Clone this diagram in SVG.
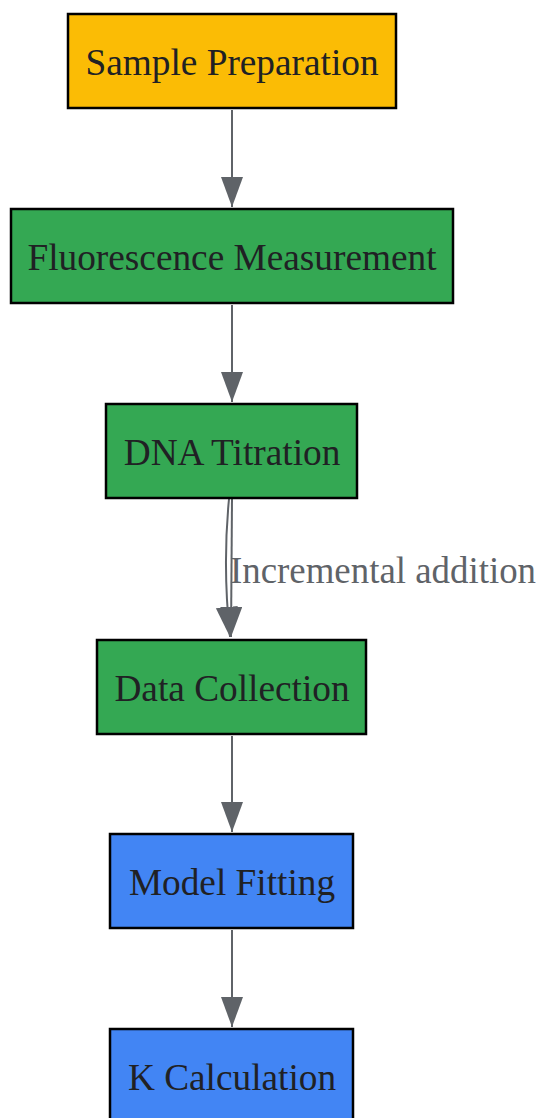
<svg xmlns="http://www.w3.org/2000/svg" width="542" height="1118" viewBox="0 0 542 1118">
<defs>
<style>
.node rect{stroke:#000;stroke-width:2.5}
.node text{font-family:"Liberation Serif","Times New Roman",serif;font-size:37.3px;fill:#202124;text-anchor:middle}
.edge{fill:none;stroke:#5f6368;stroke-width:2;marker-end:url(#arrow)}
.lbl{font-family:"Liberation Serif","Times New Roman",serif;font-size:37px;fill:#5f6368}
</style>
<marker id="arrow" markerUnits="userSpaceOnUse" markerWidth="31" markerHeight="23" refX="30" refY="11" orient="auto">
<path d="M0,0 L30,11 L0,22 z" fill="#5f6368"/>
</marker>
</defs>
<rect width="542" height="1118" fill="#fff"/>
<g id="connectors">
<path class="edge" d="M232,110 L232,207"/>
<path class="edge" d="M232,305 L232,402"/>
<path class="edge" d="M232,499 L231,637"/>
<path class="edge" d="M229,499 C225,540 225,590 230,637"/>
<path class="edge" d="M232,736 L232,832"/>
<path class="edge" d="M232,930 L232,1027"/>
<text class="lbl" x="230" y="583" textLength="306" lengthAdjust="spacingAndGlyphs">Incremental addition</text>
</g>
<g id="sample" class="node"><rect x="68" y="14" width="328" height="94" fill="#FBBC05"/><text x="232" y="75">Sample Preparation</text></g>
<g id="fluor" class="node"><rect x="11" y="209" width="442" height="94" fill="#34A853"/><text x="232" y="270">Fluorescence Measurement</text></g>
<g id="dna" class="node"><rect x="106" y="404" width="251" height="94" fill="#34A853"/><text x="232" y="465">DNA Titration</text></g>
<g id="data" class="node"><rect x="97" y="640" width="269" height="94" fill="#34A853"/><text x="232" y="701">Data Collection</text></g>
<g id="model" class="node"><rect x="110" y="834" width="243" height="94" fill="#4285F4"/><text x="232" y="895">Model Fitting</text></g>
<g id="kcalc" class="node"><rect x="110" y="1029" width="243" height="94" fill="#4285F4"/><text x="232" y="1090">K Calculation</text></g>
</svg>
